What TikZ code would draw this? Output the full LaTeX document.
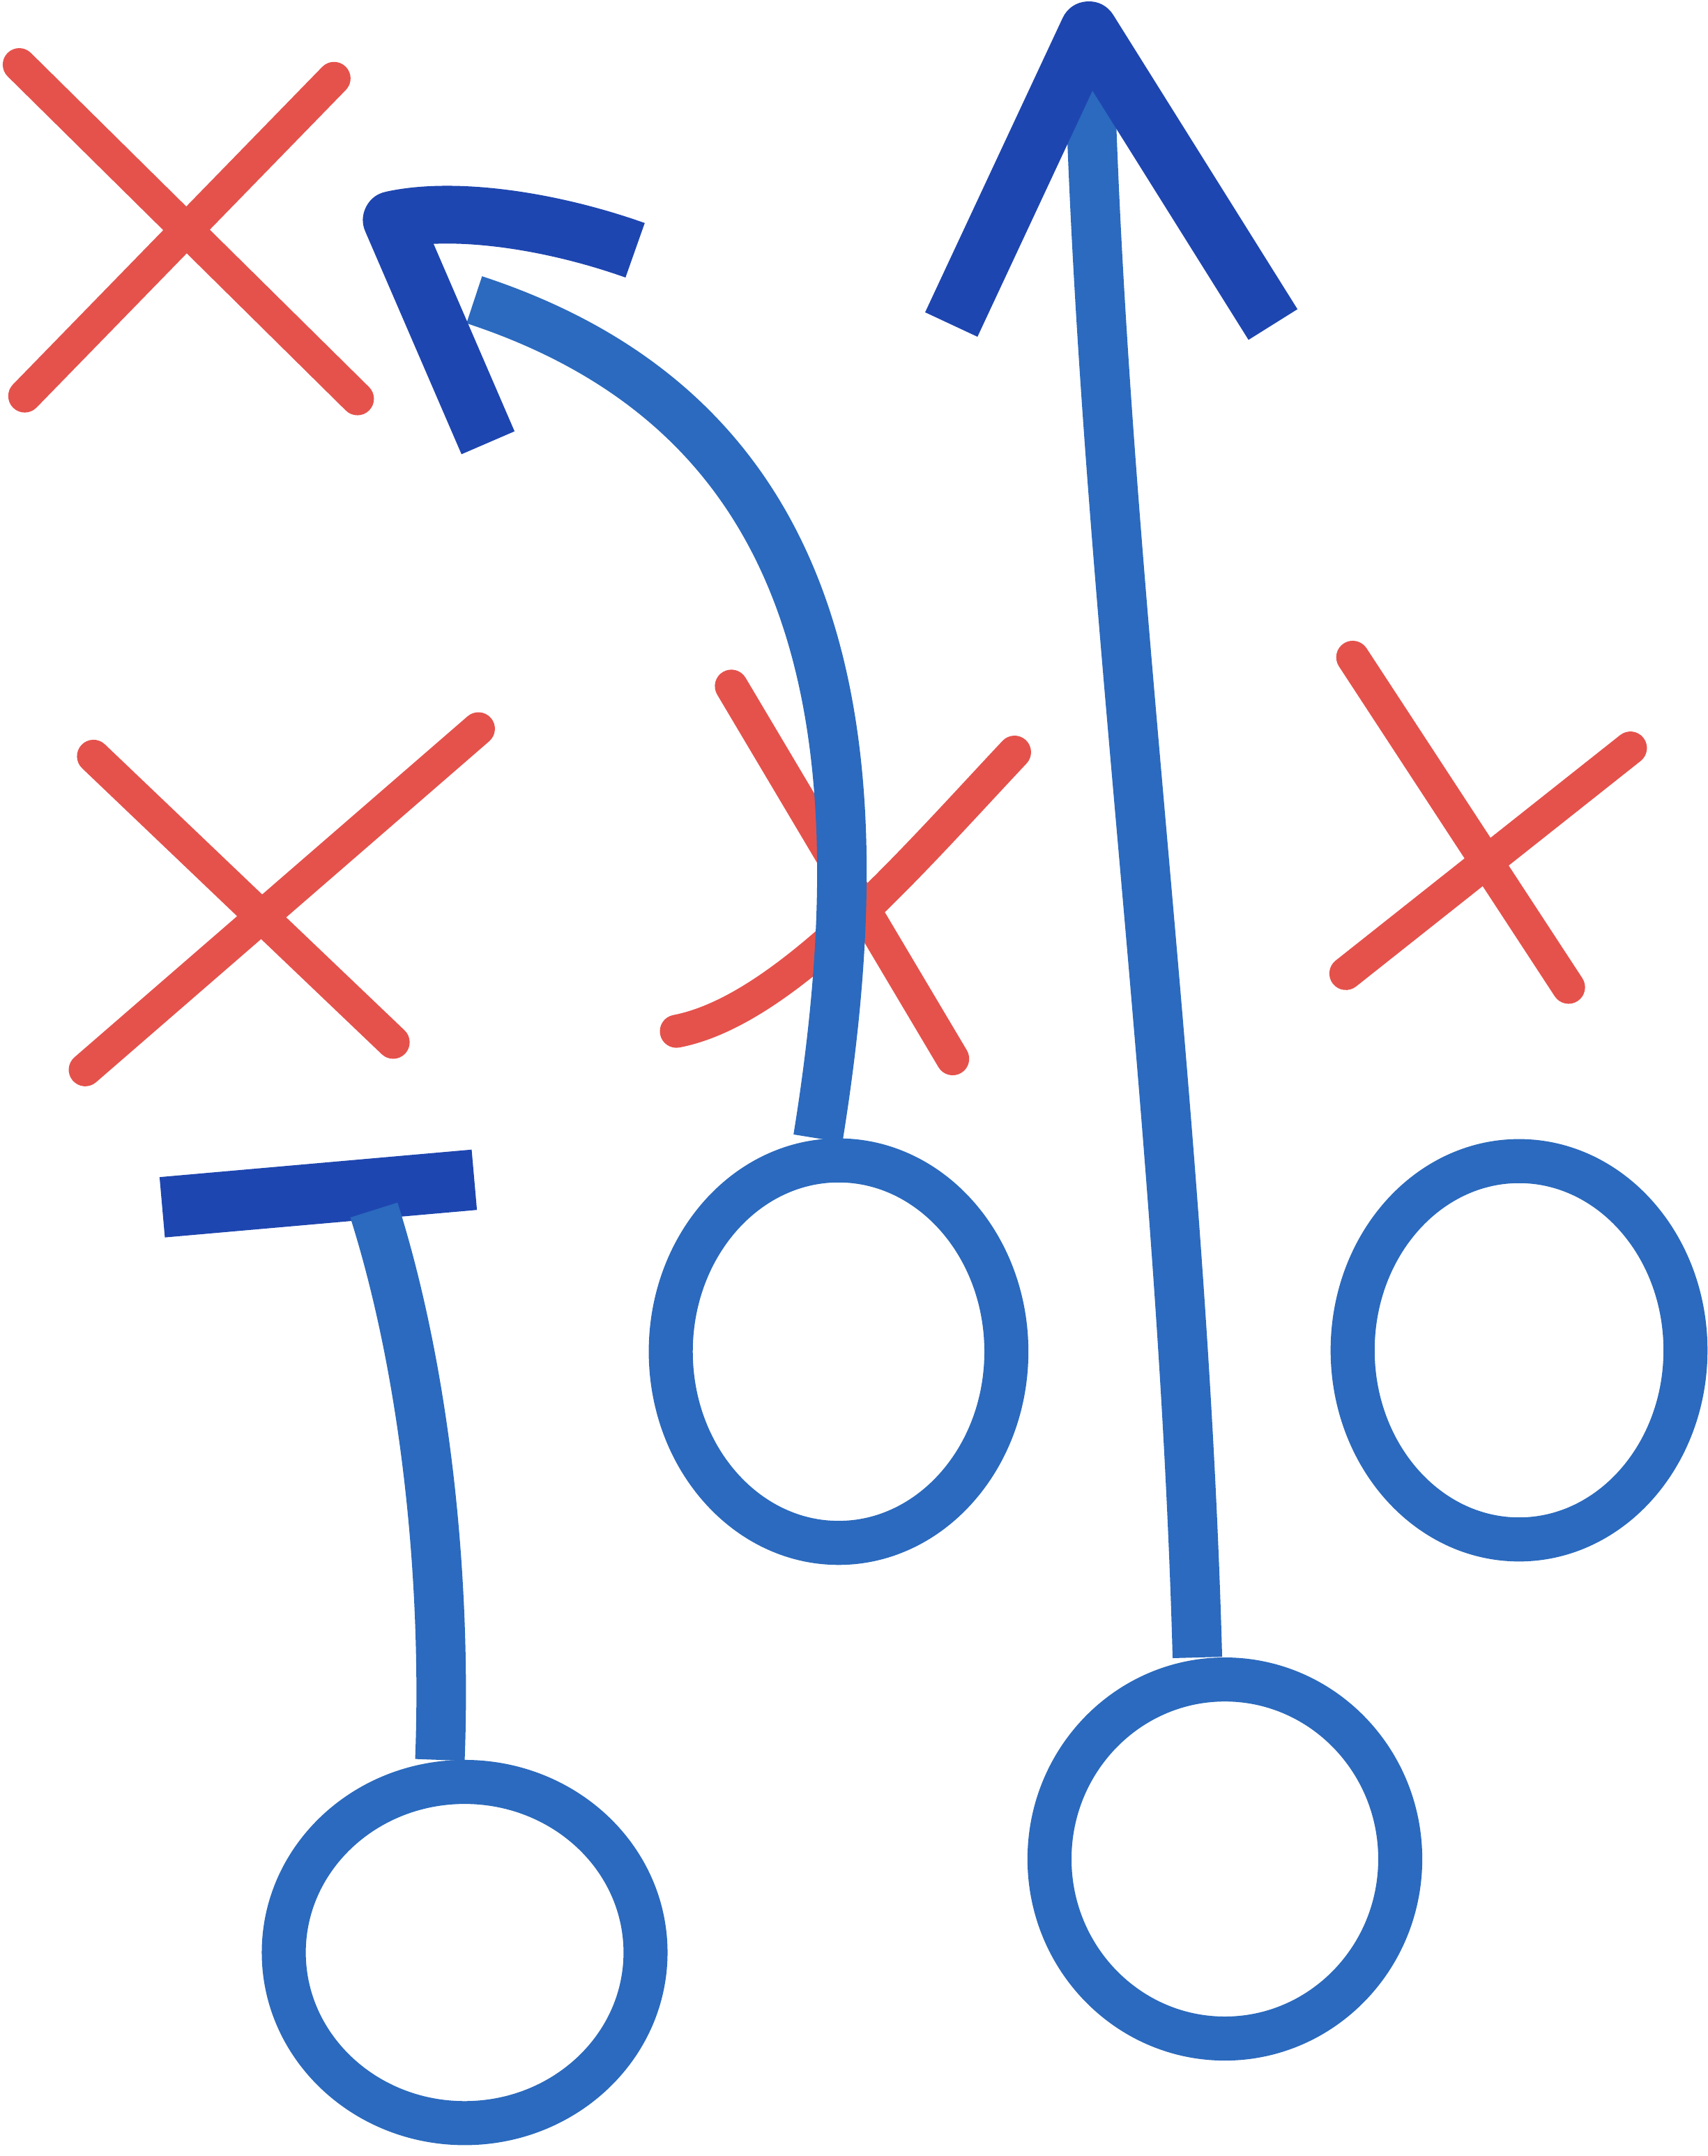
\documentclass[tikz,border=0pt]{standalone}
\usetikzlibrary{positioning,shapes.geometric}

\definecolor{markred}{RGB}{229,82,76}
\definecolor{markblue}{RGB}{43,106,190}
\definecolor{inkblue}{RGB}{30,70,176}

\begin{document}
\begin{tikzpicture}[x=0.01cm,y=-0.01cm,
    cross/.style={draw=markred, line width=0.24cm, line cap=round},
    route/.style={draw=markblue, line width=0.36cm, line cap=round},
    head/.style={draw=inkblue, line width=0.42cm, line cap=butt, line join=round},
    player/.style={ellipse, draw=markblue, line width=0.32cm, inner sep=0pt}]
    \useasboundingbox (0,0) rectangle (1242,1568);

    % Defenders
    \coordinate (xa1) at (14,47);   \coordinate (xa2) at (260,290);
    \coordinate (xa3) at (243,57);  \coordinate (xa4) at (18,288);
    \coordinate (xb1) at (68,550);  \coordinate (xb2) at (286,758);
    \coordinate (xb3) at (348,530); \coordinate (xb4) at (62,778);
    \coordinate (xc1) at (532,499); \coordinate (xc2) at (693,770);
    \coordinate (xc3) at (738,547); \coordinate (xc4) at (492,750);
    \coordinate (xd1) at (984,478); \coordinate (xd2) at (1141,718);
    \coordinate (xd3) at (1186,544);\coordinate (xd4) at (979,708);
    \draw[cross] (xa1) -- (xa2);
    \draw[cross] (xa3) -- (xa4);
    \draw[cross] (xb1) -- (xb2);
    \draw[cross] (xb3) -- (xb4);
    \draw[cross] (xc1) -- (xc2);
    \draw[cross] (xc3) .. controls (660,630) and (570,735) .. (xc4);
    \draw[cross] (xd1) -- (xd2);
    \draw[cross] (xd3) -- (xd4);

    % Players
    \node[player, minimum width=2.63cm, minimum height=2.48cm] (blocker) at (338,1420) {};
    \node[player, minimum width=2.44cm, minimum height=2.78cm] (slot) at (610,983) {};
    \node[player, minimum width=2.42cm, minimum height=2.75cm] (wide) at (1105,982) {};
    \node[player, minimum width=2.55cm, minimum height=2.61cm] (runner) at (891,1352) {};

    % Routes
    \coordinate (bar1) at (118,878);
    \coordinate (bar2) at (345,858);
    \draw[head, line width=0.44cm] (bar1) -- (bar2);
    \draw[route, line cap=butt] (blocker.north) ++(-18,0) .. controls (325,1150) and (310,1000) .. (272,880);

    \coordinate (goTip) at (792,22);
    \coordinate (goL) at (692,236);
    \coordinate (goR) at (926,236);
    \draw[route, line cap=butt] (runner.north) ++(-20,0) .. controls (860,800) and (800,400) .. (goTip);
    \draw[head] (goL) -- (goTip) -- (goR);

    \coordinate (hookTip) at (285,160);
    \coordinate (hookL) at (462,182);
    \coordinate (hookR) at (355,322);
    \draw[route, line cap=butt] (slot.north) ++(-15,0) .. controls (645,520) and (595,300) .. (345,218);
    \draw[head] (hookL) .. controls (400,160) and (330,150) .. (hookTip) -- (hookR);

\end{tikzpicture}
\end{document}
